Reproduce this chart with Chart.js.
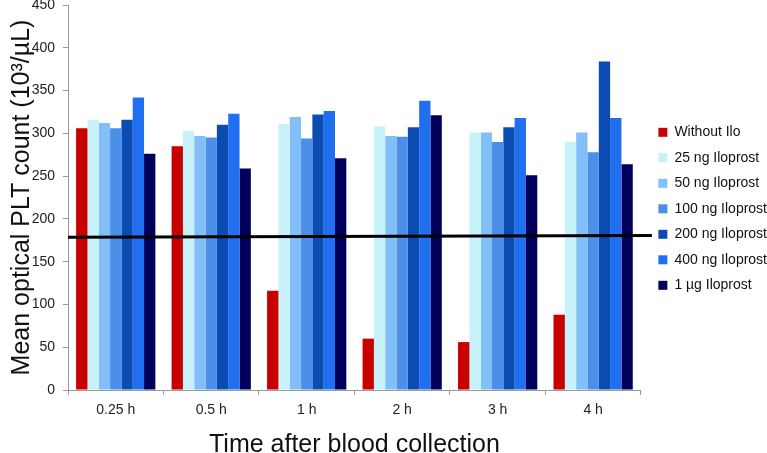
<!DOCTYPE html>
<html lang="en">
<head>
    <meta charset="UTF-8">
    <title>Mean optical PLT count</title>
    <script src="https://cdn.jsdelivr.net/npm/chart.js@4.4.0/dist/chart.umd.min.js"></script>
    <style>
        html, body { margin: 0; padding: 0; background: #fff; }
        #wrap { width: 767px; height: 453px; position: relative; }
    </style>
</head>
<body>
<div id="wrap"><canvas id="pltChart"></canvas></div>

<script>
    // categories
    const timePoints = ['0.25 h', '0.5 h', '1 h', '2 h', '3 h', '4 h'];

    // series values (10^3/uL)
    const withoutIlo = [306, 285, 116, 60, 56, 88];
    const ilo25 = [316, 303, 311, 308, 301, 290];
    const ilo50 = [312, 297, 319, 297, 301, 301];
    const ilo100 = [306, 295, 294, 296, 290, 278];
    const ilo200 = [316, 310, 322, 307, 307, 384];
    const ilo400 = [342, 323, 326, 338, 318, 318];
    const ilo1ug = [276, 259, 271, 321, 251, 264];

    // reference line (start / end value)
    const refLine = [178.5, 180.5];

    // y tick labels
    const yTicks = [0, 50, 100, 150, 200, 250, 300, 350, 400, 450];

    const series = [
        { label: 'Without Ilo', data: withoutIlo, color: '#c80000' },
        { label: '25 ng Iloprost', data: ilo25, color: '#c8f2fa' },
        { label: '50 ng Iloprost', data: ilo50, color: '#82bef7' },
        { label: '100 ng Iloprost', data: ilo100, color: '#4b8fe9' },
        { label: '200 ng Iloprost', data: ilo200, color: '#0b4cb2' },
        { label: '400 ng Iloprost', data: ilo400, color: '#1f6ff0' },
        { label: '1 \u00b5g Iloprost', data: ilo1ug, color: '#00005a' }
    ];

    // black reference line, drawn across the plot and a little past it
    const refLinePlugin = {
        id: 'refLine',
        afterLayout(chart) {
            // nudge legend a bit further right of the plot
            chart.legend.left += 6;
        },
        afterDatasetsDraw(chart) {
            const { ctx, chartArea, scales } = chart;
            ctx.save();
            ctx.strokeStyle = '#000';
            ctx.lineWidth = 3;
            ctx.beginPath();
            ctx.moveTo(chartArea.left, scales.y.getPixelForValue(refLine[0]));
            ctx.lineTo(chartArea.right + 11, scales.y.getPixelForValue(refLine[1]));
            ctx.stroke();
            ctx.restore();
        }
    };

    Chart.defaults.font.family = '"Liberation Sans", Arial, sans-serif';
    Chart.defaults.color = '#222';

    new Chart(document.getElementById('pltChart'), {
        type: 'bar',
        data: {
            labels: timePoints,
            datasets: series.map(s => ({
                label: s.label,
                data: s.data,
                backgroundColor: s.color,
                borderWidth: 0,
                barPercentage: 1.0,
                categoryPercentage: 0.83
            }))
        },
        options: {
            responsive: true,
            maintainAspectRatio: false,
            animation: false,
            layout: { padding: { top: 0, right: -4, bottom: 0, left: 3 } },
            plugins: {
                legend: {
                    position: 'right',
                    align: 'start',
                    title: {
                        display: true,
                        text: ' ',
                        font: { size: 14 },
                        padding: { top: 97, bottom: 0 }
                    },
                    labels: {
                        boxWidth: 9,
                        boxHeight: 9,
                        padding: 11.5,
                        font: { size: 14 },
                        color: '#111'
                    }
                },
                tooltip: { enabled: false }
            },
            scales: {
                x: {
                    afterFit(axis) {
                        axis.height = 63;
                    },
                    grid: {
                        display: true,
                        drawOnChartArea: false,
                        offset: true,
                        tickLength: 5,
                        color: '#999'
                    },
                    border: { color: '#999', width: 1 },
                    ticks: { font: { size: 14 }, color: '#222', padding: 7 },
                    title: {
                        display: true,
                        text: 'Time after blood collection',
                        font: { size: 25, lineHeight: 1 },
                        color: '#111',
                        padding: { top: 9, bottom: -5 }
                    }
                },
                y: {
                    min: 0,
                    max: 450,
                    afterBuildTicks(axis) {
                        axis.ticks = yTicks.map(v => ({ value: v }));
                    },
                    afterFit(axis) {
                        axis.width = 65;
                        axis.paddingTop = 5;
                        axis.paddingBottom = 0;
                    },
                    grid: {
                        display: true,
                        drawOnChartArea: false,
                        tickLength: 5,
                        color: '#999'
                    },
                    border: { color: '#999', width: 1 },
                    ticks: { font: { size: 14 }, color: '#222', padding: 8 },
                    title: {
                        display: true,
                        text: 'Mean optical PLT count (10\u00b3/\u00b5L)',
                        font: { size: 25, lineHeight: 1 },
                        color: '#111',
                        padding: { top: 6.5, bottom: 0 }
                    }
                }
            }
        },
        plugins: [refLinePlugin]
    });
</script>
</body>
</html>
